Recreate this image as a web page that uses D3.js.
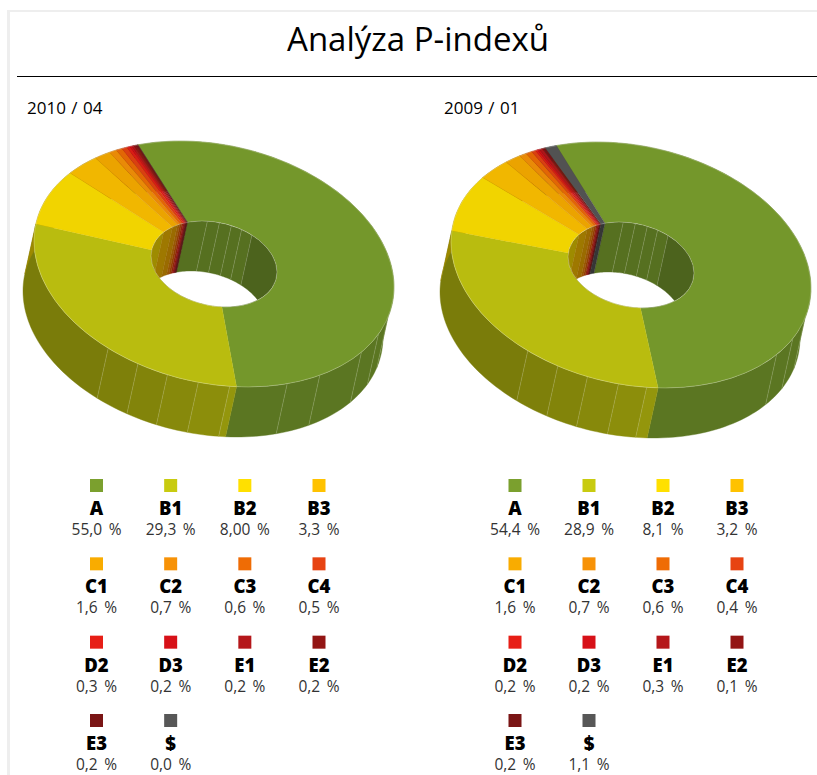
<!DOCTYPE html>
<html>
<head>
<meta charset="utf-8">
<title>Analýza P-indexů</title>
<script src="https://cdn.jsdelivr.net/npm/d3@7"></script>
<style>
  body { margin: 0; background: #fff; }
  svg { display: block; }
  text { font-family: "Open Sans", "Noto Sans", sans-serif; }
  .title { font-size: 33px; fill: #000; }
  .period { font-size: 17px; word-spacing: 1px; fill: #000; }
  .cat { font-size: 18.5px; font-weight: 800; fill: #000; }
  .pct { font-size: 15.5px; word-spacing: 2.5px; fill: #333; }
</style>
</head>
<body>
<div id="chart"></div>
<script>
var categories = ["A", "B1", "B2", "B3", "C1", "C2", "C3", "C4", "D2", "D3", "E1", "E2", "E3", "$"];
var colors = ["#7ba02e", "#c8cb10", "#ffe000", "#ffc200", "#f9ac00", "#f79207", "#ef6c05", "#e74312",
              "#e71e16", "#d71118", "#b5171a", "#931514", "#7a1515", "#575757"];

var values2010 = [55.0, 29.3, 8.0, 3.3, 1.6, 0.7, 0.6, 0.5, 0.3, 0.2, 0.2, 0.2, 0.2, 0.0];
var labels2010 = ["55,0 %", "29,3 %", "8,00 %", "3,3 %", "1,6 %", "0,7 %", "0,6 %", "0,5 %",
                  "0,3 %", "0,2 %", "0,2 %", "0,2 %", "0,2 %", "0,0 %"];

var values2009 = [54.4, 28.9, 8.1, 3.2, 1.6, 0.7, 0.6, 0.4, 0.2, 0.2, 0.3, 0.1, 0.2, 1.1];
var labels2009 = ["54,4 %", "28,9 %", "8,1 %", "3,2 %", "1,6 %", "0,7 %", "0,6 %", "0,4 %",
                  "0,2 %", "0,2 %", "0,3 %", "0,1 %", "0,2 %", "1,1 %"];

// seams of the 3d walls, degrees clockwise from 3 o'clock
var seams2010 = [-96, -85, -74, -64, -53, 15, 24, 35, 54, 66, 85, 95, 105, 115, 126];
var seams2009 = [-97, -86, -75, -65, -54, 15, 26, 36, 85, 94, 104, 114, 125];

var W = 817, H = 775;
var R = 180, r0 = 63;
var skew = 0.1278, squash = 0.6711;
var drop = [-11, 50];

var svg = d3.select("#chart").append("svg").attr("width", W).attr("height", H);

// paper edge
svg.append("rect").attr("x", 7).attr("y", 10).attr("width", W - 7).attr("height", 2).attr("fill", "#eee");
svg.append("rect").attr("x", 7).attr("y", 10).attr("width", 3).attr("height", H - 10).attr("fill", "#eee");

svg.append("text").attr("class", "title").attr("x", 418).attr("y", 51).attr("text-anchor", "middle").text("Analýza P-indexů");
svg.append("line").attr("x1", 17).attr("x2", W).attr("y1", 76.5).attr("y2", 76.5).attr("stroke", "#000");

function scaled(c, k) {
  var q = d3.rgb(c);
  return d3.rgb(q.r * k, q.g * k, q.b * k).formatHex();
}

var outerShade = d3.scaleThreshold().domain([84, 95, 105, 115, 126]).range([0.74, 0.70, 0.675, 0.65, 0.63, 0.61]);
var innerShade = d3.scaleThreshold().domain([-170, -53]).range([0.7, 0.7, 0.62]);
var line = d3.line();

function drawPie(id, cx, cy, startDeg, values, seams, title, titleX, labels, colX) {
  var g = svg.append("g");
  var start = startDeg * Math.PI / 180;
  var pie = d3.pie().sort(null).startAngle(start).endAngle(start + 2 * Math.PI);
  var slices = pie(values);
  var matrix = "matrix(1," + skew + ",0," + squash + "," + cx + "," + cy + ")";

  function project(r, a) {
    return [cx + r * Math.sin(a), cy + skew * r * Math.sin(a) - squash * r * Math.cos(a)];
  }
  function phi(a) { return a * 180 / Math.PI - 90; }

  // one wall piece per slice, cut at the seams
  function wall(r, parent, shade, list) {
    slices.forEach(function(s, i) {
      if (s.endAngle - s.startAngle < 1e-6) return;
      var cuts = list.map(function(d) { return (d + 90) * Math.PI / 180; })
        .filter(function(a) { return a > s.startAngle && a < s.endAngle; });
      var edges = [s.startAngle].concat(cuts, [s.endAngle]);
      d3.pairs(edges).forEach(function(e) {
        var n = Math.max(2, Math.ceil((e[1] - e[0]) / 0.03));
        var top = d3.range(n + 1).map(function(k) { return project(r, e[0] + (e[1] - e[0]) * k / n); });
        var bottom = top.map(function(p) { return [p[0] + drop[0], p[1] + drop[1]]; }).reverse();
        var c = scaled(colors[i], shade(phi((e[0] + e[1]) / 2)));
        parent.append("path").attr("d", line(top.concat(bottom)) + "Z")
          .attr("fill", c).attr("stroke", c).attr("stroke-width", 0.4);
      });
    });
  }
  function seamLines(r, parent, list) {
    parent.selectAll(null).data(list).enter().append("line")
      .attr("x1", function(d) { return project(r, (d + 90) * Math.PI / 180)[0]; })
      .attr("y1", function(d) { return project(r, (d + 90) * Math.PI / 180)[1]; })
      .attr("x2", function(d) { return project(r, (d + 90) * Math.PI / 180)[0] + drop[0]; })
      .attr("y2", function(d) { return project(r, (d + 90) * Math.PI / 180)[1] + drop[1]; })
      .attr("stroke", "#fff").attr("stroke-opacity", 0.28).attr("stroke-width", 0.6);
  }

  var outerSeams = seams.filter(function(d) { return d > 0; });
  var innerSeams = seams.filter(function(d) { return d < 0; });

  wall(R, g, outerShade, outerSeams);
  seamLines(R, g, outerSeams);

  // top face
  var arc = d3.arc().innerRadius(r0).outerRadius(R);
  g.append("g").attr("transform", matrix).selectAll("path").data(slices).enter().append("path")
    .attr("d", arc)
    .attr("fill", function(d, i) { return scaled(colors[i], i == 1 ? 0.925 : 0.945); })
    .attr("stroke", function(d, i) { return i > 1 ? scaled(colors[i], 0.85) : scaled(colors[i], i == 1 ? 0.925 : 0.945); })
    .attr("stroke-width", 0.3);

  // inside of the hole, clipped to its opening
  var clip = g.append("clipPath").attr("id", id);
  clip.append("path").attr("transform", matrix)
    .attr("d", d3.arc().innerRadius(0).outerRadius(r0).startAngle(0).endAngle(2 * Math.PI)());
  var hole = g.append("g").attr("clip-path", "url(#" + id + ")");
  wall(r0, hole, innerShade, innerSeams);
  seamLines(r0, hole, innerSeams);

  // light rim
  [R, r0].forEach(function(r) {
    g.append("path").attr("transform", matrix)
      .attr("d", d3.arc().innerRadius(r).outerRadius(r).startAngle(0).endAngle(2 * Math.PI)())
      .attr("fill", "none").attr("stroke", "#fff").attr("stroke-opacity", 0.25).attr("stroke-width", 0.6);
  });

  svg.append("text").attr("class", "period").attr("x", titleX).attr("y", 114).text(title);

  // legend
  var xCol = d3.scalePoint().domain([0, 1, 2, 3]).range(colX);
  var yRow = d3.scalePoint().domain([0, 1, 2, 3]).range([479, 714]);
  var item = svg.append("g").selectAll("g").data(categories).enter().append("g")
    .attr("transform", function(d, i) {
      return "translate(" + xCol(i % 4) + "," + yRow(Math.floor(i / 4)) + ")";
    });
  item.append("rect").attr("x", -6.5).attr("y", 0).attr("width", 13).attr("height", 13)
    .attr("fill", function(d, i) { return colors[i]; });
  item.append("text").attr("class", "cat").attr("text-anchor", "middle").attr("y", 36).text(function(d) { return d; });
  item.append("text").attr("class", "pct").attr("text-anchor", "middle").attr("y", 56)
    .text(function(d, i) { return labels[i]; });
}

drawPie("hole1", 214, 264, -25, values2010, seams2010, "2010 / 04", 27, labels2010, [96.5, 319]);
drawPie("hole2", 631, 265, -24.5, values2009, seams2009, "2009 / 01", 444, labels2009, [515, 737]);
</script>
</body>
</html>
